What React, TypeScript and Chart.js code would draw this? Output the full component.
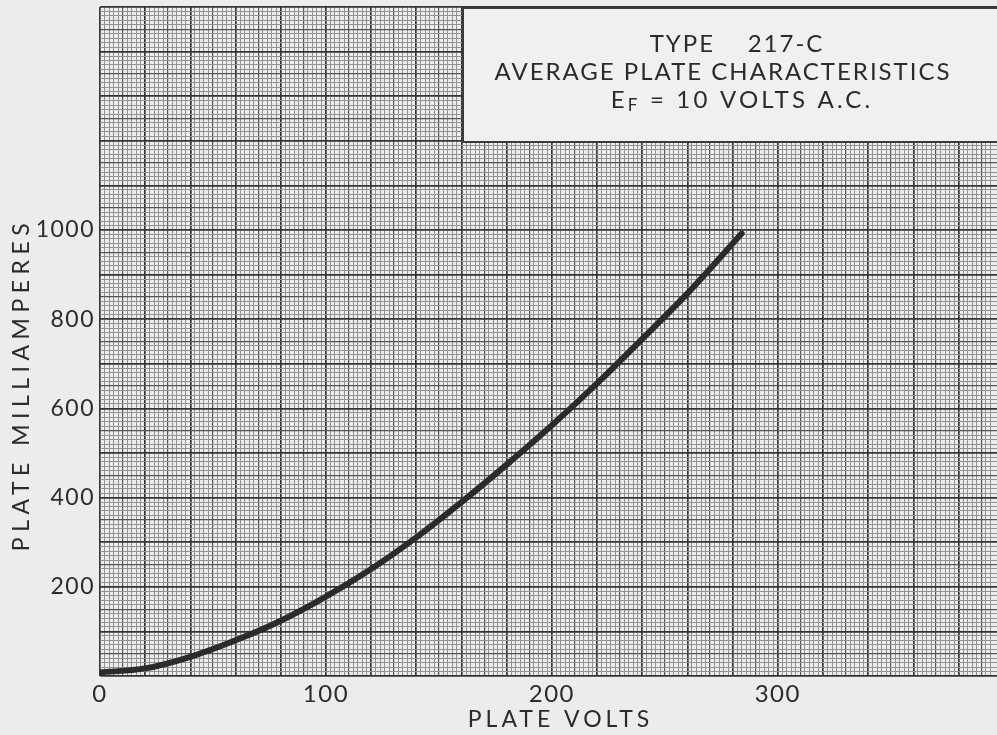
import React, { useEffect, useRef } from "react";
import { Chart, registerables } from "chart.js";

Chart.register(...registerables);

// ---- data ----
const plateVolts = [0, 20, 40, 60, 80, 100, 120, 140, 160, 180, 200, 220, 240, 260, 284];
const plateMilliamperes = [8, 17, 43, 80, 124, 178, 240, 311, 390, 474, 562, 656, 756, 858, 992];
const xLabelValues = [0, 100, 200, 300];
const yLabelValues = [200, 400, 600, 800, 1000];
const xAxisTitle = "PLATE VOLTS";
const yAxisTitle = "PLATE MILLIAMPERES";
const titleLine1 = "TYPE    217-C";
const titleLine2 = "AVERAGE PLATE CHARACTERISTICS";
const titleLine3Main = "E";
const titleLine3Sub = "F";
const titleLine3Rest = " = 10 VOLTS A.C.";

const X_MIN = 0;
const X_MAX = 397;
const Y_MIN = 0;
const Y_MAX = 1500;
const X_MINOR = 2;
const X_MID = 10;
const X_MAJOR = 20;
const Y_MINOR = 10;
const Y_MID = 50;
const Y_MAJOR = 100;

const FONT = "Lato, 'DejaVu Sans', sans-serif";
const INK = "#2b2b2b";

function gridKind(v: number, mid: number, major: number): number {
  if (Math.abs(v % major) < 1e-6) return 2;
  if (Math.abs(v % mid) < 1e-6) return 1;
  return 0;
}
const GRID_COLORS = ["#929292", "#555555", "#353535"];
const GRID_WIDTHS = [1, 1.2, 1.7];

function patchTitle(s: any, spacing: string, shiftX: number, shiftY: number) {
  if (s.__patched) return;
  const orig = s.drawTitle.bind(s);
  s.drawTitle = () => {
    const ctx = s.ctx;
    ctx.save();
    ctx.letterSpacing = spacing;
    ctx.translate(shiftX, shiftY);
    orig();
    ctx.restore();
  };
  s.__patched = true;
}

const paperPlugin = {
  id: "paper",
  beforeDraw(chart: any) {
    const { ctx, width, height } = chart;
    ctx.save();
    ctx.fillStyle = "#ececec";
    ctx.fillRect(0, 0, width, height);
    ctx.restore();
    ctx.letterSpacing = "1.5px";
  },
};

const titleBoxPlugin = {
  id: "titleBox",
  afterDraw(chart: any) {
    const ctx = chart.ctx;
    const left = 463;
    const top = 8;
    const bottom = 142;
    const right = chart.width + 10;
    ctx.save();
    ctx.fillStyle = "#f0f0f0";
    ctx.fillRect(left, top, right - left, bottom - top);
    ctx.strokeStyle = "#3a3a3a";
    ctx.lineWidth = 2;
    ctx.strokeRect(left, top, right - left, bottom - top);

    ctx.fillStyle = INK;
    ctx.textBaseline = "alphabetic";
    ctx.textAlign = "center";
    (ctx as any).letterSpacing = "2px";
    const big = `24px ${FONT}`;
    const small = `17px ${FONT}`;
    ctx.font = big;
    ctx.fillText(titleLine1, 737, 52);
    ctx.fillText(titleLine2, 723, 80);

    (ctx as any).letterSpacing = "3.2px";
    ctx.textAlign = "left";
    ctx.font = big;
    const wE = ctx.measureText(titleLine3Main).width;
    const wRest = ctx.measureText(titleLine3Rest).width;
    ctx.font = small;
    const wF = ctx.measureText(titleLine3Sub).width;
    let x = 742 - (wE + wF + wRest) / 2;
    ctx.font = big;
    ctx.fillText(titleLine3Main, x, 108);
    x += wE;
    ctx.font = small;
    ctx.fillText(titleLine3Sub, x, 111);
    x += wF;
    ctx.font = big;
    ctx.fillText(titleLine3Rest, x, 108);
    ctx.restore();
  },
};

export default function App() {
  const ref = useRef<HTMLCanvasElement>(null);

  useEffect(() => {
    if (!ref.current) return;
    const chart = new Chart(ref.current, {
      type: "line",
      data: {
        datasets: [
          {
            data: plateVolts.map((v, i) => ({ x: v, y: plateMilliamperes[i] })),
            borderColor: INK,
            borderWidth: 6,
            pointRadius: 0,
            cubicInterpolationMode: "monotone",
            borderCapStyle: "round",
            fill: false,
          } as any,
        ],
      },
      options: {
        animation: false,
        responsive: true,
        maintainAspectRatio: false,
        layout: { padding: { top: 7, left: 0, right: 0, bottom: 0 } },
        plugins: {
          legend: { display: false },
          tooltip: { enabled: false },
        },
        scales: {
          x: {
            type: "linear",
            min: X_MIN,
            max: X_MAX,
            afterFit: (s: any) => {
              s.height = 59;
              s.paddingRight = 0;
              s.paddingLeft = 0;
              patchTitle(s, "4px", 12, 0);
            },
            border: { display: false },
            grid: {
              drawTicks: false,
              color: (c: any) => GRID_COLORS[gridKind(c.tick.value, X_MID, X_MAJOR)],
              lineWidth: (c: any) => GRID_WIDTHS[gridKind(c.tick.value, X_MID, X_MAJOR)],
            },
            ticks: {
              stepSize: X_MINOR,
              autoSkip: false,
              maxRotation: 0,
              minRotation: 0,
              padding: 4,
              color: INK,
              font: { family: FONT, size: 24 },
              callback: (v: any) => (xLabelValues.includes(Number(v)) ? String(v) : ""),
            },
            title: {
              display: true,
              text: xAxisTitle,
              color: INK,
              font: { family: FONT, size: 23 },
              padding: { top: 0, bottom: 2 },
            },
          },
          y: {
            type: "linear",
            min: Y_MIN,
            max: Y_MAX,
            afterFit: (s: any) => {
              s.width = 100;
              s.paddingTop = 0;
              s.paddingBottom = 0;
              patchTitle(s, "5.5px", 0, 43);
            },
            border: { display: false },
            grid: {
              drawTicks: false,
              color: (c: any) => GRID_COLORS[gridKind(c.tick.value, Y_MID, Y_MAJOR)],
              lineWidth: (c: any) => GRID_WIDTHS[gridKind(c.tick.value, Y_MID, Y_MAJOR)],
            },
            ticks: {
              stepSize: Y_MINOR,
              autoSkip: false,
              padding: 5,
              color: INK,
              font: { family: FONT, size: 23 },
              callback: (v: any) => (yLabelValues.includes(Number(v)) ? String(v) : ""),
            },
            title: {
              display: true,
              text: yAxisTitle,
              color: INK,
              font: { family: FONT, size: 23 },
              padding: { top: 8, bottom: 0 },
            },
          },
        },
      },
      plugins: [paperPlugin, titleBoxPlugin],
    });
    return () => chart.destroy();
  }, []);

  return (
    <div style={{ position: "absolute", left: 0, top: 0, width: 997, height: 735 }}>
      <canvas ref={ref} />
    </div>
  );
}
